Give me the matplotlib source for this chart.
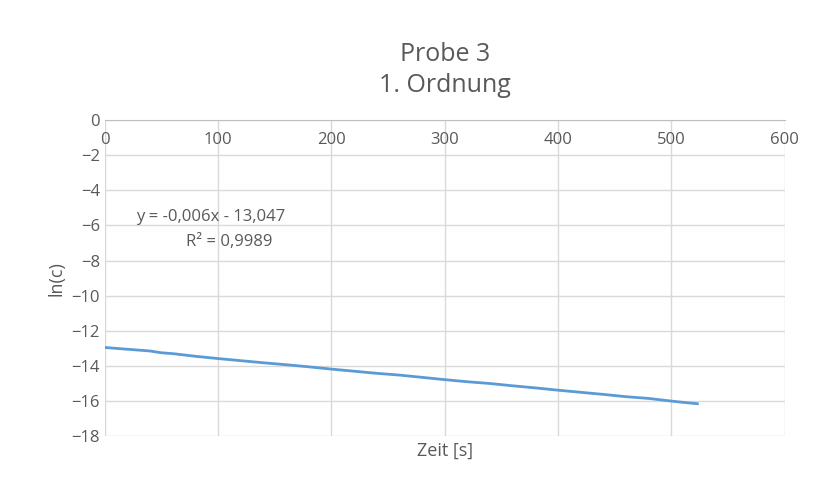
import matplotlib.pyplot as plt

# Zeit [s] und ln(c)
zeit = [0, 10, 20, 30, 40, 50, 60, 80, 100, 120, 140, 160, 180, 200, 220, 240, 260,
        280, 300, 320, 340, 360, 380, 400, 420, 440, 460, 480, 500, 510, 523]
lnc = [-12.95, -13.0, -13.05, -13.1, -13.15, -13.25, -13.3, -13.45, -13.58, -13.7,
       -13.82, -13.93, -14.05, -14.18, -14.3, -14.42, -14.52, -14.65, -14.78, -14.9,
       -15.0, -15.13, -15.25, -15.38, -15.5, -15.62, -15.75, -15.85, -16.0, -16.07, -16.15]
xticks = [0, 100, 200, 300, 400, 500, 600]
yticks = [0, -2, -4, -6, -8, -10, -12, -14, -16, -18]

grey = '#595959'
plt.rcParams['font.family'] = ['Open Sans', 'DejaVu Sans']

fig, ax = plt.subplots(figsize=(8.19, 4.82), dpi=100)
fig.subplots_adjust(left=0.128, right=0.958, top=0.751, bottom=0.095)

ax.plot(zeit, lnc, color='#5B9BD5', linewidth=2)

ax.set_xlim(0, 600)
ax.set_ylim(-18, 0)
ax.set_xticks(xticks)
ax.set_yticks(yticks)
ax.grid(True, color='#D9D9D9', linewidth=1)
ax.set_axisbelow(True)
for s in ax.spines.values():
    s.set_visible(False)
ax.spines['top'].set_visible(True)
ax.spines['top'].set_color('#BFBFBF')
ax.xaxis.set_ticks_position('top')
ax.tick_params(length=0, colors=grey, labelsize=12)
ax.tick_params(axis='x', pad=-20)

ax.set_xlabel('Zeit [s]', color=grey, fontsize=13)
ax.set_ylabel('ln(c)', color=grey, fontsize=13)
ax.set_title('Probe 3\n1. Ordnung', color=grey, fontsize=18, pad=20, linespacing=1.35)

ax.text(93, -5.75, 'y = -0,006x - 13,047', color=grey, fontsize=12, ha='center')
ax.text(110, -7.2, 'R² = 0,9989', color=grey, fontsize=12, ha='center')

plt.savefig('out.png')
